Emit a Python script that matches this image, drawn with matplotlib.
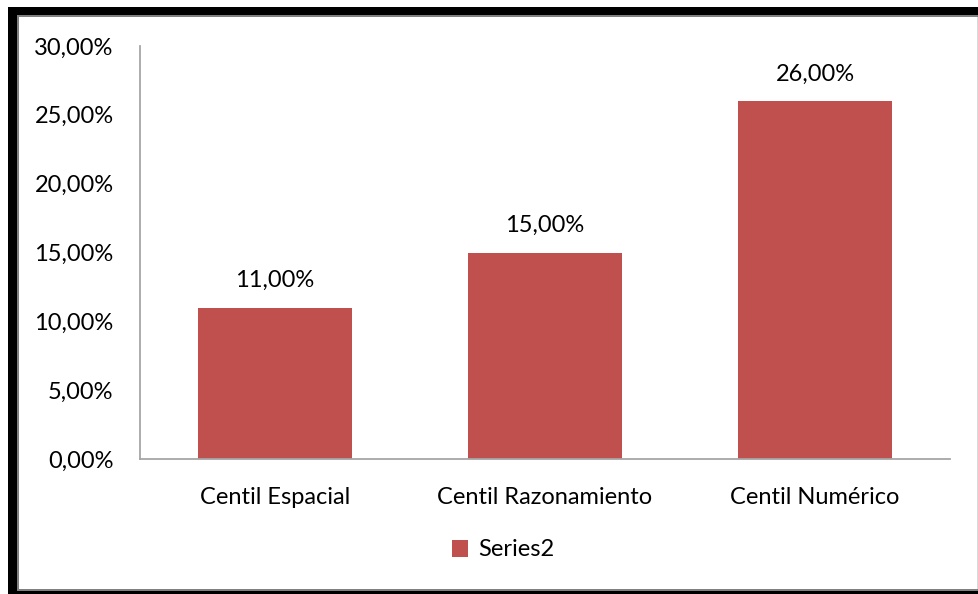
import matplotlib.pyplot as plt
import matplotlib.patches as patches
import matplotlib.ticker as ticker

# Centiles par catégorie
categories = ['Centil Espacial', 'Centil Razonamiento', 'Centil Numérico']
valeurs = [11.0, 15.0, 26.0]
serie = 'Series2'

plt.rcParams['font.family'] = ['Lato', 'DejaVu Sans']

fig = plt.figure(figsize=(9.79, 5.94), dpi=100)
fig.patch.set_facecolor('white')

# cadre noir autour du graphique (gauche, haut, bas)
W, H = 979, 594
def rect(x, y, w, h, c):
    fig.patches.append(patches.Rectangle((x / W, 1 - (y + h) / H), w / W, h / H,
                                         transform=fig.transFigure, facecolor=c,
                                         edgecolor='none', zorder=0))
rect(8, 7, 971, 8, 'black')
rect(17, 15, 962, 2, '#808080')
rect(8, 15, 9, 579, 'black')
rect(17, 17, 2, 572, '#808080')
rect(17, 589, 962, 2, '#808080')
rect(17, 591, 962, 3, 'black')
rect(977, 17, 1.5, 572, '#D9D9D9')

ax = fig.add_axes([140 / W, 1 - 459 / H, 810 / W, 413 / H])
x = range(len(categories))
bars = ax.bar(x, valeurs, width=0.57, color='#C0504D', label=serie, zorder=2)
ax.set_xlim(-0.5, 2.5)
ax.set_ylim(0, 30)
ax.yaxis.set_major_locator(ticker.MultipleLocator(5))
ax.yaxis.set_major_formatter(ticker.FuncFormatter(lambda v, p: '{:.2f}%'.format(v).replace('.', ',')))
ax.set_xticks(list(x))
ax.set_xticklabels(categories, fontsize=17)
ax.tick_params(axis='y', labelsize=17, length=0, pad=19)
ax.tick_params(axis='x', length=0, pad=20)
for s in ['top', 'right']:
    ax.spines[s].set_visible(False)
for s in ['left', 'bottom']:
    ax.spines[s].set_color('#A6A6A6')
    ax.spines[s].set_linewidth(1.3)

for b, v in zip(bars, valeurs):
    ax.annotate('{:.2f}%'.format(v).replace('.', ','), (b.get_x() + b.get_width() / 2, v),
                xytext=(0, 12), textcoords='offset points', ha='center', va='bottom', fontsize=17)

ax.legend(loc='center', bbox_to_anchor=(503 / W, 1 - 550 / H), bbox_transform=fig.transFigure,
          frameon=False, fontsize=17, handlelength=0.7, handleheight=0.7, handletextpad=0.4)

fig.savefig('out.png', dpi=100)
